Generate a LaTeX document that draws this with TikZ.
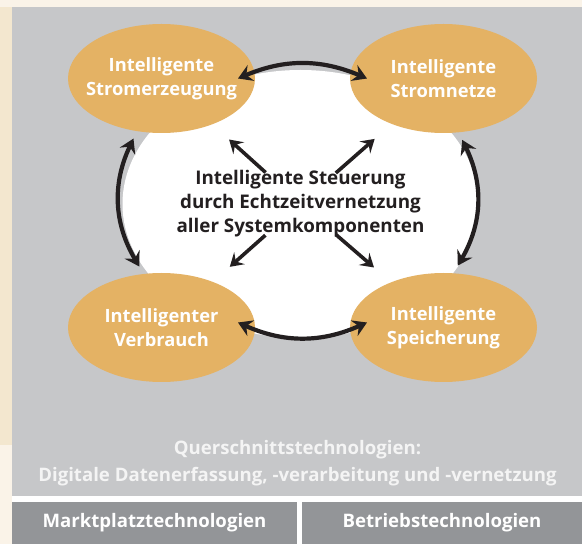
\documentclass[tikz,border=0pt]{standalone}
\usepackage{fontspec}
\setmainfont{Open Sans}
\usetikzlibrary{arrows.meta,shapes.geometric}
\definecolor{cream}{HTML}{FAF3E8}
\definecolor{sand}{HTML}{F3E7CF}
\definecolor{panelgrey}{HTML}{C6C7C9}
\definecolor{boxgrey}{HTML}{939598}
\definecolor{fieldorange}{HTML}{E4B264}
\definecolor{arrowdark}{HTML}{231F20}
\definecolor{lighttext}{HTML}{F4F4F4}

\begin{document}
\begin{tikzpicture}[x=1pt,y=1pt]
\tikzset{field/.style={ellipse,fill=fieldorange,minimum width=187pt,minimum height=109pt,
    inner xsep=-25pt,inner ysep=0pt,outer sep=8pt,text=white,align=center,font=\bfseries\fontsize{18.3}{24}\selectfont},
  hubshape/.style={ellipse,fill=white,minimum width=356pt,minimum height=268pt,inner sep=0pt,
    text=arrowdark,align=center,font=\bfseries\fontsize{18.8}{24}\selectfont},
  techbox/.style={fill=boxgrey,minimum height=42pt,inner sep=0pt,text=white,
    font=\bfseries\fontsize{18.6}{20}\selectfont},
  biarrow/.style={line width=4.2pt,draw=arrowdark,>={Stealth[length=14pt,width=17pt,inset=5pt]},<->},
  arr/.style={line width=3.6pt,draw=arrowdark,-{Stealth[length=13pt,width=16pt,inset=5pt]},
    shorten <=47pt,shorten >=14pt}}
% background
\fill[cream] (0,0) rectangle (582,544);
\fill[sand] (0,99) rectangle (12,537);
\fill[white] (12,0) rectangle (582,48);
\fill[panelgrey] (12,48) rectangle (582,537);

\node[hubshape] (hub) at (300.5,340) {Intelligente Steuerung\\durch Echtzeitvernetzung\\aller Systemkomponenten};
\node[field] (tl) at (161.5,465.5) {Intelligente\\Stromerzeugung};
\node[field] (tr) at (443.5,465.5) {Intelligente\\Stromnetze};
\node[field] (bl) at (161.5,216.5) {Intelligenter\\Verbrauch};
\node[field] (br) at (443.5,216.5) {Intelligente\\Speicherung};

\draw[biarrow] ([xshift=-25pt]tl.east) to[bend left=23] ([xshift=25pt]tr.west);
\draw[biarrow] ([xshift=-25pt,yshift=5pt]bl.east) to[bend right=24] ([xshift=25pt,yshift=5pt]br.west);
\draw[biarrow] (tl.245) to[bend right=28] (bl.110);
\draw[biarrow] (tr.287) to[bend left=28] (br.77);
\foreach \n in {tl,tr,bl,br}
  \draw[arr] (hub.center) -- (\n);

\node[text=lighttext,align=center,font=\bfseries\fontsize{18.6}{27}\selectfont] (quer) at (297.5,80.5)
  {Querschnittstechnologien:\\Digitale Datenerfassung, -verarbeitung und -vernetzung};
\node[techbox,minimum width=285pt] (markt) at (154.5,21) {Marktplatztechnologien};
\node[techbox,minimum width=280pt] (betrieb) at (442,21) {Betriebstechnologien};
\end{tikzpicture}
\end{document}
